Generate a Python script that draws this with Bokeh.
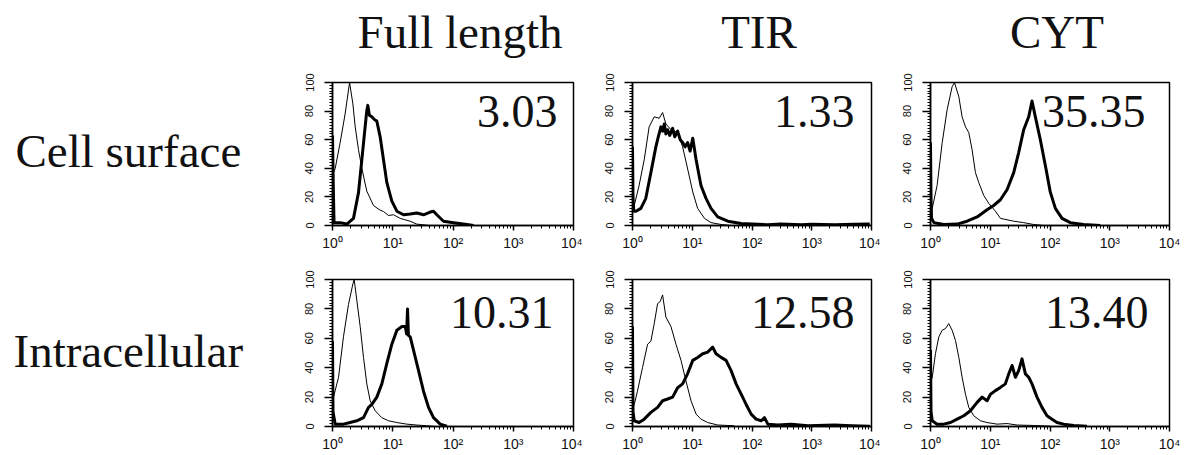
from bokeh.plotting import figure
from bokeh.layouts import row, column
from bokeh.models import Range1d, FixedTicker, CustomJSTickFormatter, SingleIntervalTicker
from bokeh.core.properties import value
from bokeh.embed import file_html
from bokeh.resources import INLINE

# ---------------- data ----------------
col_titles = ["Full length", "TIR", "CYT"]
row_titles = ["Cell surface", "Intracellular"]
pct_labels = [["3.03", "1.33", "35.35"], ["10.31", "12.58", "13.40"]]
x_tick_values = [1, 10, 100, 1000, 10000]

# Cell surface / Full length
surf_full_ctrl_x = [1.0, 1.04, 1.11, 1.34, 1.62, 1.92, 2.18, 2.38, 2.70, 3.07, 3.71, 4.79, 6.0, 7.02, 8.5, 10.3, 13.3, 16.0, 19.4, 25.0, 40.0]
surf_full_ctrl_y = [35, 37, 40, 58, 78, 100, 85, 69, 53, 40, 24, 14, 11, 9.8, 7, 7.5, 5, 4, 3, 1, 0]
surf_full_stain_x = [1.0, 1.03, 1.06, 1.34, 1.73, 2.23, 2.70, 3.07, 3.48, 3.70, 3.86, 4.10, 4.50, 5.00, 5.44, 6.18, 7.02, 7.98, 9.66, 11.7, 15.1, 19.5, 25.1, 32.4, 41.8, 47.5, 53.9, 69.5, 102, 170, 219]
surf_full_stain_y = [63, 28, 2, 2, 1, 5, 23, 46, 69, 80, 84, 77, 76, 74, 73, 62, 46, 30, 17, 10, 7.5, 8, 8.7, 7.5, 9.4, 10, 7.5, 3, 2, 0.7, 0]

# Cell surface / TIR
surf_tir_ctrl_x = [1.0, 1.07, 1.29, 1.57, 1.90, 2.31, 2.80, 3.19, 3.62, 4.40, 5.69, 6.90, 8.38, 10.2, 12.3, 16.0, 20.6, 30.4, 45.0]
surf_tir_ctrl_y = [14, 14, 28, 46, 69, 76, 75, 79, 71, 67, 65, 55, 39.5, 23.5, 12, 5, 2, 0.7, 0]
surf_tir_stain_x = [1.0, 1.02, 1.05, 1.14, 1.38, 1.67, 2.03, 2.46, 2.70, 2.99, 3.20, 3.40, 3.62, 3.87, 4.20, 4.69, 5.10, 5.69, 6.30, 6.90, 7.60, 8.38, 9.20, 10.2, 11.6, 14.0, 17.0, 20.6, 26.7, 39.3, 65.8, 100, 184, 300, 668, 1000, 2426, 5000, 9340]
surf_tir_stain_y = [55, 20, 10, 10, 12, 19, 37, 55, 62, 69, 66, 71, 64, 67, 63, 68, 62, 66, 60, 58, 55, 58, 52, 61, 46, 28, 19, 12, 6, 3, 1.4, 1.0, 0.5, 1.0, 0.5, 0.8, 0.5, 0.8, 1.0]

# Cell surface / CYT
surf_cyt_ctrl_x = [1.0, 1.07, 1.29, 1.57, 1.90, 2.30, 2.52, 2.98, 3.38, 3.85, 4.37, 4.97, 5.65, 6.43, 7.79, 9.44, 12.2, 14.8, 19.1, 24.7, 36.3, 53.3, 78.4]
surf_cyt_ctrl_y = [10, 12, 28, 58, 81, 97, 100, 90, 76, 69, 65, 53, 37, 30, 21, 15.5, 10, 5, 4, 3, 2, 0.7, 0]
surf_cyt_stain_x = [1.0, 1.02, 1.04, 1.14, 1.67, 2.79, 4.10, 6.03, 8.85, 11.4, 14.8, 19.1, 24.7, 29.9, 36.3, 44.0, 50.0, 56.9, 68.9, 83.6, 101, 123, 159, 219, 365, 694]
surf_cyt_stain_y = [58, 20, 5, 2, 0.7, 1, 3, 6, 11, 14, 18, 25, 37, 51, 67, 76, 87, 76, 60, 42, 23.5, 12, 5, 2, 0.7, 0]

# Intracellular / Full length
intra_full_ctrl_x = [1.0, 1.04, 1.26, 1.52, 1.84, 2.18, 2.29, 2.53, 2.88, 3.27, 3.71, 4.22, 5.11, 6.59, 8.50, 11.7, 17.1, 25.1, 36.8, 50.0]
intra_full_ctrl_y = [18, 20, 33.5, 61, 83, 97, 100, 86, 68, 47, 29, 17.5, 10.7, 6, 3.9, 2.7, 1.6, 1, 0.5, 0]
intra_full_stain_x = [1.0, 1.02, 1.11, 1.52, 1.96, 2.53, 3.27, 3.96, 4.50, 5.44, 6.59, 7.98, 9.66, 11.7, 14.2, 16.1, 17.0, 17.6, 18.2, 19.5, 22.1, 26.8, 32.4, 39.2, 47.5, 61.3, 79.0]
intra_full_stain_y = [58, 10, 1.6, 1.6, 2.7, 3.9, 6, 13, 15, 20, 29, 43, 56, 65.5, 68, 68, 63, 80, 62, 61, 52, 38, 24, 13, 6, 1.6, 0.2]

# Intracellular / TIR
intra_tir_ctrl_x = [1.0, 1.07, 1.21, 1.47, 1.79, 2.03, 2.31, 2.63, 2.91, 3.19, 3.62, 4.40, 5.34, 6.48, 7.85, 9.53, 11.6, 14.0, 18.1, 26.7, 50.8]
intra_tir_ctrl_y = [12, 15, 24, 40, 56, 58, 70, 83.6, 85, 89.5, 74.5, 68, 56, 45, 31, 17.5, 8.4, 5, 2.7, 1, 0.5]
intra_tir_stain_x = [1.0, 1.02, 1.07, 1.29, 1.57, 2.03, 2.63, 3.19, 3.87, 4.69, 5.69, 6.90, 8.38, 10.2, 12.3, 15.0, 18.1, 22.0, 25.0, 30.4, 36.8, 44.7, 54.2, 65.8, 79.8, 96.8, 117, 143, 162, 184, 271, 454, 865, 2426, 4613, 9370]
intra_tir_stain_y = [68, 10, 3.9, 2.7, 5, 9.6, 13, 17.5, 18.7, 20, 26.4, 29, 36, 45, 47, 49.5, 50.6, 54, 49.5, 47, 45, 38, 29, 22, 15, 8.4, 5, 3.9, 6, 1.6, 1, 1.6, 0.5, 1, 0.5, 0.2]

# Intracellular / CYT
intra_cyt_ctrl_x = [1.0, 1.07, 1.21, 1.38, 1.57, 1.78, 2.02, 2.30, 2.62, 2.98, 3.38, 3.85, 4.37, 5.30, 6.85, 8.85, 13.0, 19.1, 28.1, 53.3, 101]
intra_cyt_ctrl_y = [30, 33.5, 49.5, 61, 65.5, 66.6, 70, 65.5, 58.5, 47, 33.5, 22, 13, 7.3, 3.9, 2.7, 1.6, 2, 1, 0.7, 0.2]
intra_cyt_stain_x = [1.0, 1.02, 1.07, 1.29, 1.67, 2.16, 2.79, 3.61, 4.66, 6.03, 7.31, 8.85, 10.1, 12.2, 14.8, 17.9, 20.4, 23.2, 26.4, 29.9, 34.0, 38.7, 44.0, 50.0, 60.6, 73.5, 89.1, 108, 131, 169, 249, 415]
intra_cyt_stain_y = [52, 10, 3.9, 1.6, 1.6, 2.7, 5, 7.3, 10.7, 16.4, 20, 17.5, 22, 24.4, 26.6, 29, 35.8, 41.5, 33.5, 38, 46, 35.8, 33.5, 29, 20, 13, 7.3, 5, 2.7, 1.6, 0.7, 0.2]

panels = [
    [(surf_full_ctrl_x, surf_full_ctrl_y, surf_full_stain_x, surf_full_stain_y),
     (surf_tir_ctrl_x, surf_tir_ctrl_y, surf_tir_stain_x, surf_tir_stain_y),
     (surf_cyt_ctrl_x, surf_cyt_ctrl_y, surf_cyt_stain_x, surf_cyt_stain_y)],
    [(intra_full_ctrl_x, intra_full_ctrl_y, intra_full_stain_x, intra_full_stain_y),
     (intra_tir_ctrl_x, intra_tir_ctrl_y, intra_tir_stain_x, intra_tir_stain_y),
     (intra_cyt_ctrl_x, intra_cyt_ctrl_y, intra_cyt_stain_x, intra_cyt_stain_y)],
]

# ---------------- layout / style ----------------
FRAME_W = [241, 239, 239]
LEFT_B = [64, 50, 50]
RIGHT_B = [9, 9, 15]
LABEL_W = 268
HEADER_H = 70
ROW_TOP = [12, 26]
FRAME_H = [146, 147]
ROW_BOT = [25, 28]
PCT_INSET = [[16, 17, 24], [20, 17, 21]]
PCT_MID = [30, 33]          # px below frame top (text middle)
TITLE_OFFSET = 7
TITLE_MID = 31              # px below top of page
ROW_LABEL_LEFT = [15, 13]
ROW_LABEL_MID = [158, 351]  # px below top of page
SERIF = "'Liberation Serif', 'Times New Roman', Times, serif"
SANS = "'Liberation Sans', Arial, Helvetica, sans-serif"
INK = "#111111"

x_minor = [m * t for t in x_tick_values[:-1] for m in range(2, 10)]
sup_code = """
const sup = ['\u2070', '\u00b9', '\u00b2', '\u00b3', '\u2074'];
const e = Math.round(Math.log10(tick));
return '10' + sup[e];
"""


def make_panel(r, c):
    cx, cy, sx, sy = panels[r][c]
    fw, fh = FRAME_W[c], FRAME_H[r]
    p = figure(width=LEFT_B[c] + fw + RIGHT_B[c], height=ROW_TOP[r] + fh + ROW_BOT[r],
               x_axis_type="log", x_range=Range1d(1, 1e4), y_range=Range1d(0, 100),
               output_backend="svg", toolbar_location=None,
               min_border_left=LEFT_B[c], min_border_right=RIGHT_B[c],
               min_border_top=ROW_TOP[r], min_border_bottom=ROW_BOT[r])
    p.grid.visible = False
    p.outline_line_color = "black"
    p.outline_line_width = 1.5
    p.background_fill_color = "white"
    p.border_fill_color = "white"

    p.line(cx, cy, line_color="black", line_width=1)
    p.line(sx, sy, line_color="black", line_width=3, line_join="round")

    xa = p.xaxis[0]
    xa.ticker = FixedTicker(ticks=x_tick_values, minor_ticks=x_minor)
    xa.formatter = CustomJSTickFormatter(code=sup_code)
    xa.major_tick_out = 5
    xa.major_tick_in = 0
    xa.minor_tick_out = 3
    xa.minor_tick_in = 0
    xa.major_label_standoff = 4
    xa.major_label_text_font = SANS
    xa.major_label_text_font_size = "14px"
    xa.major_label_text_color = INK
    xa.axis_line_width = 1.5
    xa.major_tick_line_width = 1.5

    ya = p.yaxis[0]
    ya.ticker = SingleIntervalTicker(interval=20, num_minor_ticks=10)
    ya.major_label_orientation = "vertical"
    ya.major_tick_out = 8
    ya.major_tick_in = 0
    ya.minor_tick_out = 3
    ya.minor_tick_in = 0
    ya.major_label_standoff = 11
    ya.major_label_text_font = SANS
    ya.major_label_text_font_size = "11px"
    ya.major_label_text_color = INK
    ya.axis_line_width = 1.5
    ya.major_tick_line_width = 1.5

    lx = 10 ** (4.0 * (fw - PCT_INSET[r][c]) / fw)
    ly = 100.0 * (1 - PCT_MID[r] / fh)
    p.text(x=[lx], y=[ly], text=[pct_labels[r][c]], text_font=value(SERIF),
           text_font_size="46px", text_align="right", text_baseline="middle",
           text_color=INK)
    return p


def blank(w, h):
    f = figure(width=w, height=h, x_range=Range1d(0, w), y_range=Range1d(0, h),
               output_backend="svg", toolbar_location=None, min_border=0,
               x_axis_location=None, y_axis_location=None)
    f.grid.visible = False
    f.outline_line_color = None
    return f


total_w = LABEL_W + sum(LEFT_B[c] + FRAME_W[c] + RIGHT_B[c] for c in range(3))
hdr = blank(total_w, HEADER_H)
centers = []
xpos = LABEL_W
for c in range(3):
    centers.append(xpos + LEFT_B[c] + FRAME_W[c] / 2 + TITLE_OFFSET)
    xpos += LEFT_B[c] + FRAME_W[c] + RIGHT_B[c]
hdr.text(x=centers, y=[HEADER_H - TITLE_MID] * 3, text=col_titles, text_font=value(SERIF),
         text_font_size="47px", text_align="center", text_baseline="middle", text_color=INK)

rows = [hdr]
top = HEADER_H
for r in range(2):
    h = ROW_TOP[r] + FRAME_H[r] + ROW_BOT[r]
    lab = blank(LABEL_W, h)
    lab.text(x=[ROW_LABEL_LEFT[r]], y=[h - (ROW_LABEL_MID[r] - top)], text=[row_titles[r]],
             text_font=value(SERIF), text_font_size="47px", text_align="left",
             text_baseline="middle", text_color=INK)
    rows.append(row(lab, *[make_panel(r, c) for c in range(3)]))
    top += h

layout = column(*rows)
open("out.html", "w", encoding="utf-8").write(file_html(layout, INLINE))
